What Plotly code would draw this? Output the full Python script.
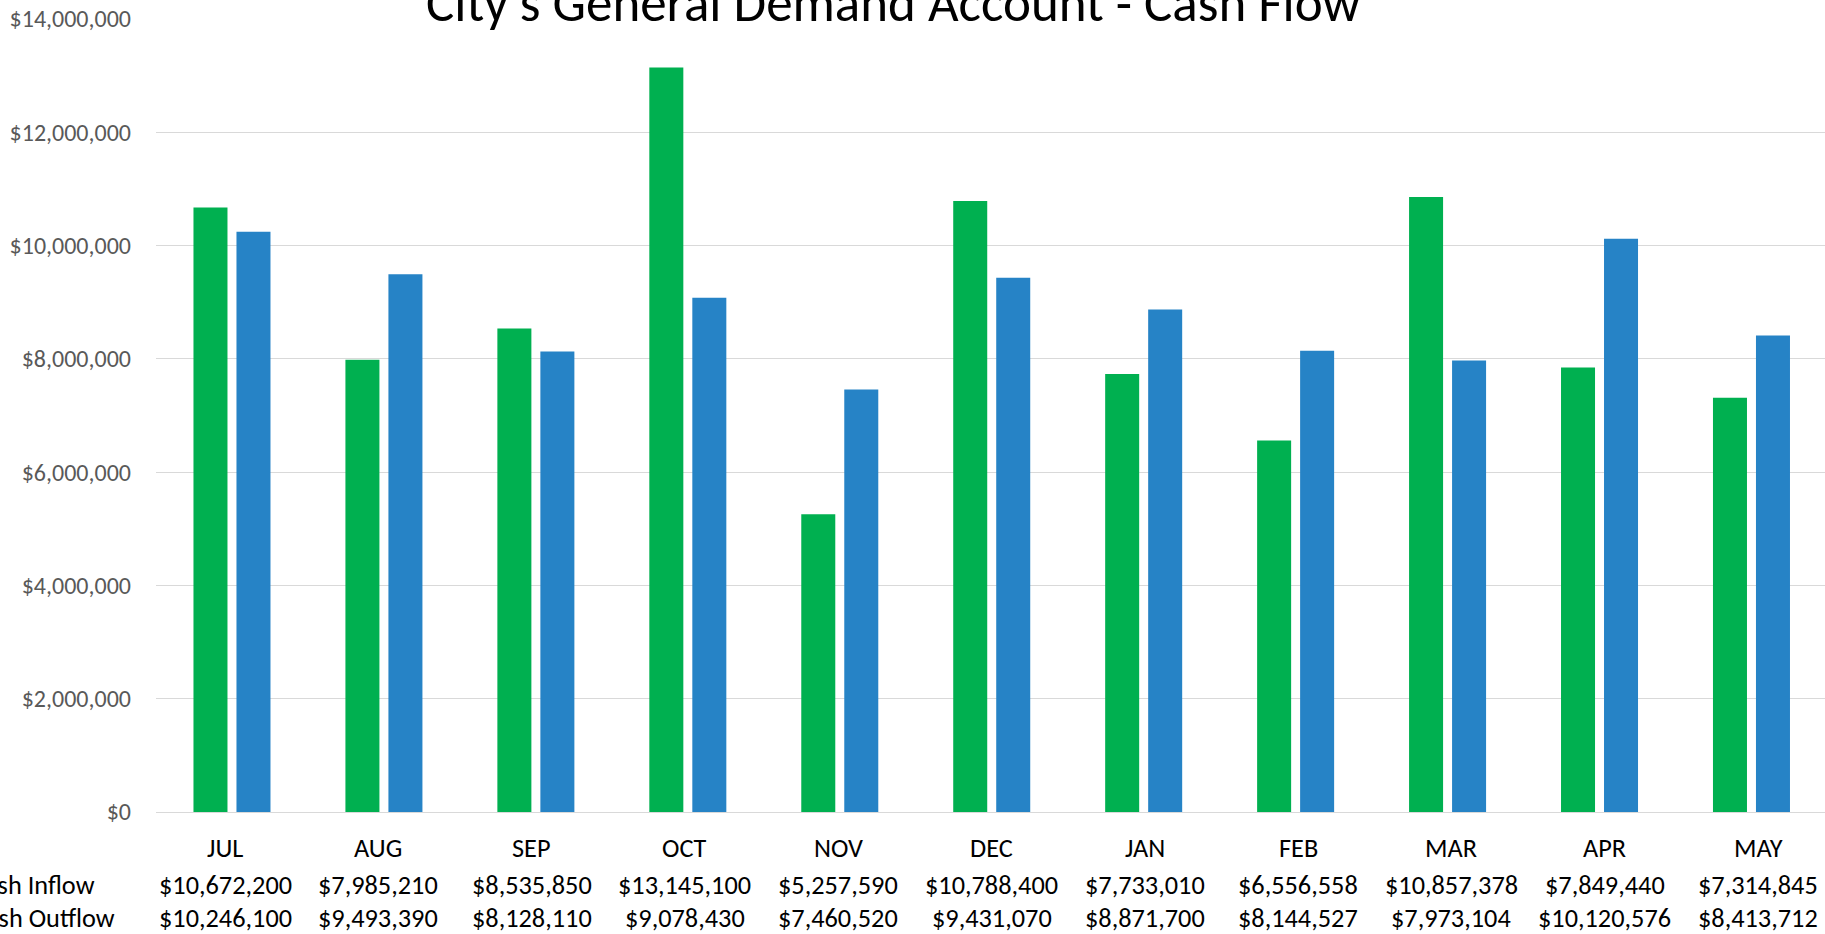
import plotly.graph_objects as go

months = ["JUL", "AUG", "SEP", "OCT", "NOV", "DEC", "JAN", "FEB", "MAR", "APR", "MAY"]
cash_inflow = [10672200, 7985210, 8535850, 13145100, 5257590, 10788400,
               7733010, 6556558, 10857378, 7849440, 7314845]
cash_outflow = [10246100, 9493390, 8128110, 9078430, 7460520, 9431070,
                8871700, 8144527, 7973104, 10120576, 8413712]
series_names = ["Cash Inflow", "Cash Outflow"]
y_ticks = [0, 2000000, 4000000, 6000000, 8000000, 10000000, 12000000, 14000000]
title_text = "City's General Demand Account - Cash Flow"

W, H = 1825, 934
ML, MR, MT, MB = 156, 0, 19, 122
CAT_W = 151.95          # pixel width of one category slot
TABLE_X0, TABLE_DX = 225, 153.3   # data-table column centres (px)
FONT = "Calibri, Carlito, Lato, sans-serif"
TXT = 26.3

fig = go.Figure()
fig.add_trace(go.Bar(x=months, y=cash_inflow, name=series_names[0],
                     marker=dict(color="#00B050", line=dict(width=0))))
fig.add_trace(go.Bar(x=months, y=cash_outflow, name=series_names[1],
                     marker=dict(color="#2683C6", line=dict(width=0))))

plot_h = H - MT - MB
def py(pix):
    return (H - MB - pix) / plot_h

plot_w = W - ML - MR
def px(pix):
    return (pix - ML) / plot_w

def money(v):
    return "${:,}".format(v)

ann = []
for i, m in enumerate(months):
    cx = px(TABLE_X0 + TABLE_DX * i)
    rows = [(847.5, m), (884.5, money(cash_inflow[i])), (918.5, money(cash_outflow[i]))]
    for ypix, t in rows:
        ann.append(dict(x=cx, y=py(ypix), xref="paper", yref="paper", text=t,
                        showarrow=False, xanchor="center", yanchor="middle",
                        font=dict(family=FONT, size=TXT, color="#000000")))
ann.append(dict(x=px(97), y=py(884.5), xref="paper", yref="paper", text=series_names[0],
                showarrow=False, xanchor="right", yanchor="middle",
                font=dict(family=FONT, size=TXT, color="#000000")))
ann.append(dict(x=px(117), y=py(918.5), xref="paper", yref="paper", text=series_names[1],
                showarrow=False, xanchor="right", yanchor="middle",
                font=dict(family=FONT, size=TXT, color="#000000")))
ann.append(dict(x=px(893), y=py(3), xref="paper", yref="paper", text=title_text,
                showarrow=False, xanchor="center", yanchor="middle",
                font=dict(family=FONT, size=53, color="#000000")))

fig.update_layout(
    width=W, height=H,
    margin=dict(l=ML, r=MR, t=MT, b=MB, pad=0),
    paper_bgcolor="white", plot_bgcolor="white",
    barmode="group", bargap=0.434, bargroupgap=0.209,
    showlegend=False,
    annotations=ann,
    font=dict(family=FONT),
)
fig.update_xaxes(range=[-0.5, -0.5 + plot_w / CAT_W], showticklabels=False, showgrid=False,
                 zeroline=False, showline=False, ticks="")
fig.update_yaxes(range=[0, 14000000], tickvals=y_ticks,
                 ticktext=[money(v) for v in y_ticks],
                 tickfont=dict(family=FONT, size=24, color="#595959"),
                 showgrid=True, gridcolor="#D9D9D9", gridwidth=1.3,
                 zeroline=True, zerolinecolor="#D9D9D9", zerolinewidth=1.3,
                 showline=False, ticks="", ticklabelstandoff=24)

fig.write_html("out.html")
